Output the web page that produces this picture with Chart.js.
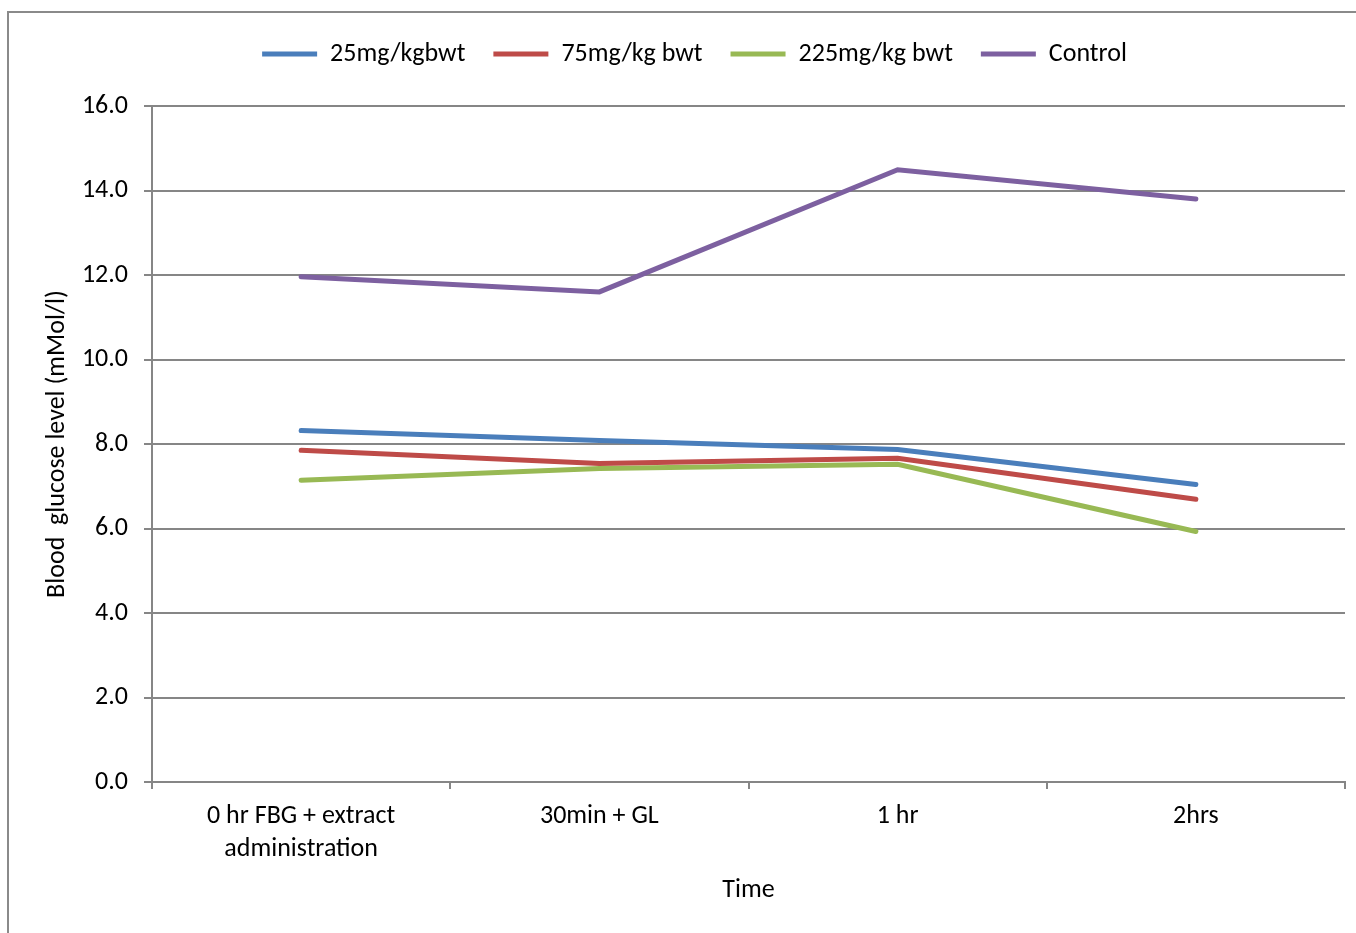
<!DOCTYPE html>
<html>
<head>
<meta charset="utf-8">
<script src="https://cdn.jsdelivr.net/npm/chart.js@4/dist/chart.umd.min.js"></script>
<style>
  html, body { margin: 0; padding: 0; background: #fff; }
  #wrap { width: 1356px; height: 933px; position: relative; }
</style>
</head>
<body>
<div id="wrap"><canvas id="c" width="1356" height="933"></canvas></div>
<script>
// Time points
const categories = [['0 hr FBG + extract', 'administration'], '30min + GL', '1 hr', '2hrs'];
// Blood glucose (mMol/l) per dose group
const dose25 = [8.32, 8.08, 7.87, 7.04];
const dose75 = [7.85, 7.54, 7.66, 6.69];
const dose225 = [7.14, 7.42, 7.52, 5.93];
const control = [11.96, 11.60, 14.49, 13.80];
const seriesNames = ['25mg/kgbwt', '75mg/kg bwt', '225mg/kg bwt', 'Control'];
const yTicks = [0, 2, 4, 6, 8, 10, 12, 14, 16];

const FONT = 'Carlito, Lato, "Liberation Sans", sans-serif';
const FS = 26;
const colors = ['#4A7EBB', '#BE4B48', '#98B954', '#7D60A0'];

// Outer frame around the chart
const framePlugin = {
  id: 'frame',
  beforeDraw(chart) {
    const ctx = chart.ctx;
    ctx.save();
    ctx.strokeStyle = '#8a8a8a';
    ctx.lineWidth = 2;
    ctx.beginPath();
    ctx.moveTo(8, 940);
    ctx.lineTo(8, 12);
    ctx.lineTo(1360, 12);
    ctx.stroke();
    ctx.restore();
  }
};

// Extra space under the legend, and a small shift of the legend row
const LEGEND_GAP = 29;
const LEGEND_SHIFT = 22;
const legendSpacing = {
  id: 'legendSpacing',
  beforeLayout(chart) {
    const lg = chart.legend;
    if (lg && !lg._gapPatched) {
      const fit = lg.fit;
      lg.fit = function () {
        fit.call(this);
        this.height += LEGEND_GAP;
      };
      lg._gapPatched = true;
    }
  },
  afterLayout(chart) {
    const lg = chart.legend;
    if (lg) {
      lg.left += LEGEND_SHIFT;
      lg.right += LEGEND_SHIFT;
    }
  }
};

const mk = (i, data) => ({
  label: seriesNames[i],
  data: data,
  borderColor: colors[i],
  backgroundColor: colors[i],
  borderWidth: 5,
  pointRadius: 0,
  pointHoverRadius: 0,
  tension: 0,
  borderCapStyle: 'round',
  borderJoinStyle: 'miter'
});

new Chart(document.getElementById('c'), {
  type: 'line',
  data: {
    labels: categories,
    datasets: [mk(0, dose25), mk(1, dose75), mk(2, dose225), mk(3, control)]
  },
  options: {
    responsive: false,
    animation: false,
    layout: { padding: { top: 13, right: 11, bottom: 0, left: 0 } },
    plugins: {
      legend: {
        position: 'top',
        labels: {
          font: { family: FONT, size: FS },
          color: '#000',
          boxWidth: 55,
          boxHeight: 5,
          padding: 28,
          generateLabels(chart) {
            return chart.data.datasets.map((d, i) => ({
              text: d.label,
              fillStyle: d.borderColor,
              strokeStyle: d.borderColor,
              lineWidth: 0,
              datasetIndex: i,
              fontColor: '#000'
            }));
          }
        }
      },
      tooltip: { enabled: false }
    },
    scales: {
      x: {
        type: 'category',
        offset: true,
        afterFit(scale) { scale.height = 151; },
        grid: {
          offset: true,
          drawOnChartArea: false,
          drawTicks: true,
          tickLength: 7,
          color: '#868686',
          lineWidth: 2
        },
        border: { color: '#868686', width: 2 },
        ticks: {
          font: { family: FONT, size: FS, lineHeight: 1.28 },
          color: '#000',
          padding: 11,
          maxRotation: 0,
          autoSkip: false
        },
        title: {
          display: true,
          text: 'Time',
          font: { family: FONT, size: FS },
          color: '#000',
          padding: { top: 0, bottom: 27 }
        }
      },
      y: {
        min: 0,
        max: 16,
        afterBuildTicks(scale) {
          scale.ticks = yTicks.map(v => ({ value: v }));
        },
        afterFit(scale) { scale.width = 152; },
        grid: {
          color: '#868686',
          lineWidth: 2,
          tickLength: 8
        },
        border: { color: '#868686', width: 2 },
        ticks: {
          font: { family: FONT, size: FS },
          color: '#000',
          padding: 16,
          callback: v => Number(v).toFixed(1)
        },
        title: {
          display: true,
          text: 'Blood  glucose level (mMol/l)',
          font: { family: FONT, size: FS },
          color: '#000',
          padding: { top: 42, bottom: 0 }
        }
      }
    }
  },
  plugins: [framePlugin, legendSpacing]
});
</script>
</body>
</html>
